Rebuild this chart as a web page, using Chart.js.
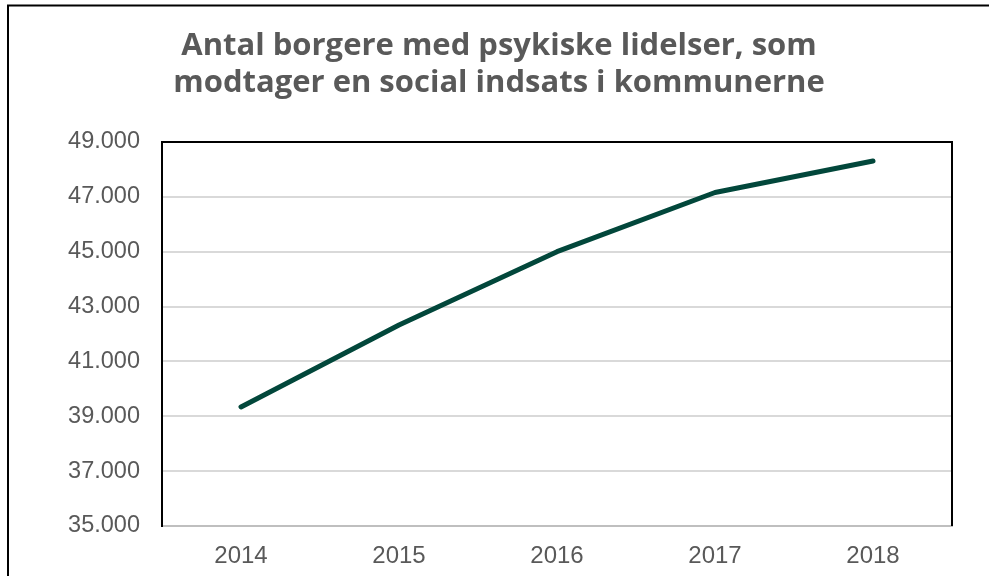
<!DOCTYPE html>
<html>
<head>
<meta charset="utf-8">
<script src="https://cdn.jsdelivr.net/npm/chart.js@4.4.0/dist/chart.umd.min.js"></script>
<style>
  html, body { margin: 0; padding: 0; background: #ffffff; }
  #wrap { position: absolute; left: 0; top: 0; width: 989px; height: 576px; }
</style>
</head>
<body>
<div id="wrap"><canvas id="c" width="989" height="576"></canvas></div>
<script>
const titleLines = ["Antal borgere med psykiske lidelser, som", "modtager en social indsats i kommunerne"];
const categories = ["2014", "2015", "2016", "2017", "2018"];
const borgere = [39340, 42330, 45000, 47160, 48310];
const yMin = 35000;
const yMax = 49000;
const yStep = 2000;

const frame = {
  id: 'frame',
  beforeDraw(chart) {
    const ctx = chart.ctx;
    ctx.save();
    ctx.fillStyle = '#ffffff';
    ctx.fillRect(0, 0, chart.width, chart.height);
    ctx.strokeStyle = '#000000';
    ctx.lineWidth = 2;
    ctx.beginPath();
    ctx.moveTo(8, chart.height);
    ctx.lineTo(8, 5.5);
    ctx.lineTo(chart.width, 5.5);
    ctx.stroke();
    ctx.restore();
  },
  afterDatasetsDraw(chart) {
    const a = chart.chartArea;
    const ctx = chart.ctx;
    ctx.save();
    ctx.strokeStyle = '#000000';
    ctx.lineWidth = 2;
    ctx.beginPath();
    ctx.moveTo(a.left - 1, a.top);
    ctx.lineTo(a.right, a.top);
    ctx.lineTo(a.right, a.bottom);
    ctx.stroke();
    ctx.restore();
  }
};

new Chart(document.getElementById('c'), {
  type: 'line',
  data: {
    labels: categories,
    datasets: [{
      data: borgere,
      borderColor: '#02473b',
      borderWidth: 5,
      borderCapStyle: 'round',
      borderJoinStyle: 'round',
      pointRadius: 0,
      pointHoverRadius: 0,
      tension: 0,
      fill: false
    }]
  },
  options: {
    responsive: false,
    animation: false,
    layout: { padding: { left: 9, right: 0, top: 0, bottom: 0 } },
    plugins: {
      legend: { display: false },
      tooltip: { enabled: false },
      title: {
        display: true,
        text: titleLines,
        color: '#595959',
        font: { family: '"Open Sans"', size: 31, weight: 'bold', lineHeight: '37px' },
        padding: { top: 28, bottom: 40 }
      }
    },
    scales: {
      x: {
        offset: true,
        grid: { display: false, drawTicks: false },
        border: { display: true, color: '#bfbfbf', width: 2 },
        ticks: {
          color: '#595959',
          font: { family: '"Liberation Sans", Arial, sans-serif', size: 24 },
          padding: 16,
          maxRotation: 0
        },
        afterFit(s) { s.height = 50; }
      },
      y: {
        min: yMin,
        max: yMax,
        grid: { color: '#d9d9d9', lineWidth: 2, drawTicks: false },
        border: { display: true, color: '#000000', width: 2 },
        ticks: {
          stepSize: yStep,
          color: '#595959',
          font: { family: '"Liberation Sans", Arial, sans-serif', size: 23.5 },
          padding: 22,
          callback: (v) => v.toLocaleString('da-DK')
        },
        afterFit(s) { s.width = 153; }
      },
      yRight: {
        position: 'right',
        display: true,
        grid: { display: false, drawTicks: false },
        border: { display: false },
        ticks: { display: false },
        afterFit(s) { s.width = 37; }
      }
    }
  },
  plugins: [frame]
});
</script>
</body>
</html>
